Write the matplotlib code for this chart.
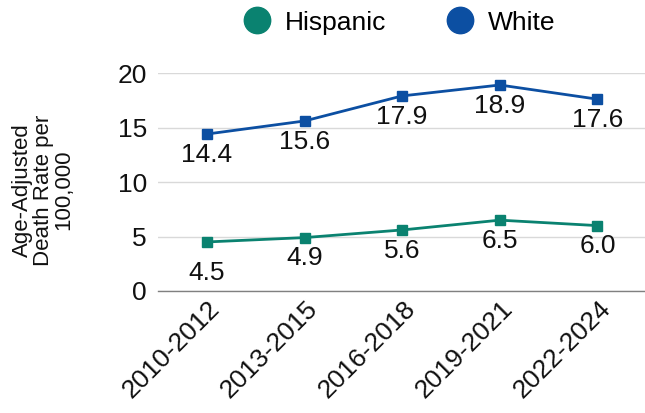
import matplotlib
matplotlib.use("Agg")
import matplotlib.pyplot as plt
import matplotlib.transforms as mtransforms
from matplotlib.lines import Line2D

plt.rcParams['font.family'] = ['Liberation Sans', 'DejaVu Sans']

periods = ["2010-2012", "2013-2015", "2016-2018", "2019-2021", "2022-2024"]
hispanic = [4.5, 4.9, 5.6, 6.5, 6.0]
white = [14.4, 15.6, 17.9, 18.9, 17.6]
y_ticks = [0, 5, 10, 15, 20]

c_hisp = "#0A8270"
c_white = "#0C4FA2"
fs = 19
txt = "#111111"

fig = plt.figure(figsize=(6.45, 4.13), dpi=100)
ax = fig.add_axes([0.245, 0.2954, 0.757, 0.5278])

x = list(range(len(periods)))
for vals, col in [(hispanic, c_hisp), (white, c_white)]:
    ax.plot(x, vals, color=col, lw=2.0, marker="s", markersize=7.5, zorder=3)

# data labels below points
hisp_off = [-22.5, -15, -15, -15, -15]
for xi, v, off in zip(x, hispanic, hisp_off):
    ax.annotate(f"{v:.1f}", (xi, v), xytext=(0, off), textcoords="offset points",
                ha="center", va="center", fontsize=fs, color=txt)
for xi, v in zip(x, white):
    ax.annotate(f"{v:.1f}", (xi, v), xytext=(0, -15), textcoords="offset points",
                ha="center", va="center", fontsize=fs, color=txt)

ax.set_xlim(-0.5, len(periods) - 0.5)
ax.set_ylim(0, 20)
ax.set_yticks(y_ticks)
ax.set_xticks(x)
ax.set_xticklabels(periods, rotation=45, ha="right", rotation_mode="anchor")
ax.tick_params(axis="both", length=0, labelsize=fs, colors=txt)
ax.tick_params(axis="y", pad=8)
ax.tick_params(axis="x", pad=4)
shift = mtransforms.ScaledTranslation(1 / 100, 0, fig.dpi_scale_trans)
for lab in ax.get_xticklabels():
    lab.set_transform(lab.get_transform() + shift)
ax.grid(axis="y", color="#D9D9D9", lw=1)
ax.set_axisbelow(True)
for s in ["top", "right", "left"]:
    ax.spines[s].set_visible(False)
ax.spines["bottom"].set_color("#808080")
ax.spines["bottom"].set_linewidth(1)

fig.text(43 / 645, 1 - 190 / 413, "Age-Adjusted\nDeath Rate per\n100,000", rotation=90,
         ha="center", va="center", fontsize=16, color=txt, linespacing=1.0)

handles = [Line2D([], [], ls="none", marker="o", markersize=19, color=c_hisp),
           Line2D([], [], ls="none", marker="o", markersize=19, color=c_white)]
fig.legend(handles, ["Hispanic", "White"], loc="center", bbox_to_anchor=(0.617, 0.945),
           ncol=2, frameon=False, fontsize=fs, handletextpad=0.45, columnspacing=2.2,
           handlelength=1.2)

fig.savefig("out.png", dpi=100)
